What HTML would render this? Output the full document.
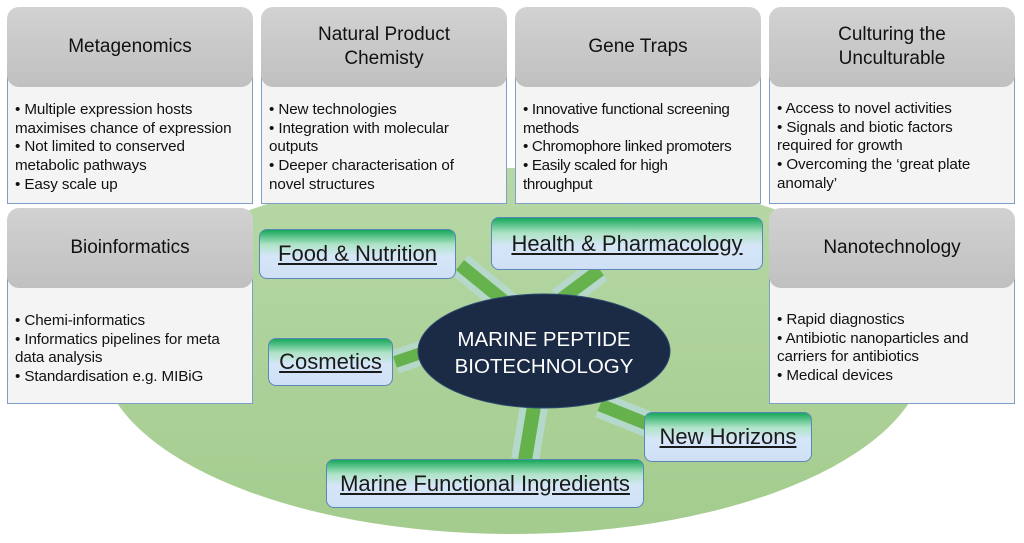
<!DOCTYPE html>
<html><head><style>
body{margin:0;width:1024px;height:543px;background:#fff;position:relative;overflow:hidden;font-family:"Liberation Sans","DejaVu Sans",sans-serif;}
.abs{position:absolute}
.card{position:absolute;width:246px}
.body{position:absolute;left:0;width:244px;background:#f4f4f4;border:1px solid #7f9fc6;}
.hdr{position:absolute;left:0;top:0;width:246px;height:80px;border-radius:12px;background:linear-gradient(#d2d2d2,#c0c0c0);display:flex;align-items:center;justify-content:center;text-align:center;font-size:19px;line-height:24px;color:#111}
.txt{position:absolute;left:8px;font-size:15.2px;line-height:18.7px;color:#111;white-space:nowrap;letter-spacing:-0.1px}
.gb{position:absolute;border:1px solid #5d86b8;border-radius:8px;background:linear-gradient(#16a85a 0%,#aee3c6 30%,#d6e6f8 55%,#cfe0f6 100%);display:flex;align-items:center;justify-content:center;font-size:22px;color:#1a1a1a;text-decoration:underline}
</style></head><body>
<div class="abs" style="left:100px;top:168px;width:826px;height:366px;border-radius:50%;background:linear-gradient(#b7d8a6,#a4cc8e);"></div>
<svg class="abs" style="left:0;top:0" width="1024" height="543">
<g stroke-linecap="butt" opacity="0.9">
<line x1="460" y1="265" x2="515" y2="310" stroke="#b6d9cf" stroke-width="26"/>
<line x1="460" y1="265" x2="515" y2="310" stroke="#5eaf45" stroke-width="13"/>
<line x1="600" y1="270" x2="560" y2="300" stroke="#b6d9cf" stroke-width="26"/>
<line x1="600" y1="270" x2="560" y2="300" stroke="#5eaf45" stroke-width="13"/>
<line x1="395" y1="362" x2="430" y2="350" stroke="#b6d9cf" stroke-width="24"/>
<line x1="395" y1="362" x2="430" y2="350" stroke="#5eaf45" stroke-width="12"/>
<line x1="535" y1="400" x2="525" y2="460" stroke="#b6d9cf" stroke-width="28"/>
<line x1="535" y1="400" x2="525" y2="460" stroke="#5eaf45" stroke-width="14"/>
<line x1="600" y1="405" x2="650" y2="425" stroke="#b6d9cf" stroke-width="26"/>
<line x1="600" y1="405" x2="650" y2="425" stroke="#5eaf45" stroke-width="13"/>
</g>
<ellipse cx="544" cy="351" rx="126" ry="57" fill="#1b2a45" stroke="#2d4a70" stroke-width="1"/>
<text x="544" y="346" fill="#fff" font-size="20.5" text-anchor="middle" font-family="Liberation Sans, sans-serif">MARINE PEPTIDE</text>
<text x="544" y="373" fill="#fff" font-size="20.5" text-anchor="middle" font-family="Liberation Sans, sans-serif">BIOTECHNOLOGY</text>
</svg>

<div class="card" style="left:7px;top:7px"><div class="body" style="top:30px;height:165px"></div><div class="hdr">Metagenomics</div>
<div class="txt" style="top:94px">• Multiple expression hosts<br>maximises chance of expression<br>• Not limited to conserved<br>metabolic pathways<br>• Easy scale up</div></div>
<div class="card" style="left:261px;top:7px"><div class="body" style="top:30px;height:165px"></div><div class="hdr">Natural Product<br>Chemisty</div>
<div class="txt" style="top:94px">• New technologies<br>• Integration with molecular<br>outputs<br>• Deeper characterisation of<br>novel structures</div></div>
<div class="card" style="left:515px;top:7px"><div class="body" style="top:30px;height:165px"></div><div class="hdr">Gene Traps</div>
<div class="txt" style="top:94px;letter-spacing:-0.35px">• Innovative functional screening<br>methods<br>• Chromophore linked promoters<br>• Easily scaled for high<br>throughput</div></div>
<div class="card" style="left:769px;top:7px"><div class="body" style="top:30px;height:165px"></div><div class="hdr">Culturing the<br>Unculturable</div>
<div class="txt" style="top:93px">• Access to novel activities<br>• Signals and biotic factors<br>required for growth<br>• Overcoming the ‘great plate<br>anomaly’</div></div>
<div class="card" style="left:7px;top:208px"><div class="body" style="top:30px;height:164px"></div><div class="hdr">Bioinformatics</div>
<div class="txt" style="top:104px">• Chemi-informatics<br>• Informatics pipelines for meta<br>data analysis<br>• Standardisation e.g. MIBiG</div></div>
<div class="card" style="left:769px;top:208px"><div class="body" style="top:30px;height:164px"></div><div class="hdr">Nanotechnology</div>
<div class="txt" style="top:103px">• Rapid diagnostics<br>• Antibiotic nanoparticles and<br>carriers for antibiotics<br>• Medical devices</div></div>

<div class="gb" style="left:259px;top:229px;width:195px;height:48px">Food &amp; Nutrition</div>
<div class="gb" style="left:491px;top:217px;width:270px;height:51px">Health &amp; Pharmacology</div>
<div class="gb" style="left:268px;top:338px;width:123px;height:46px">Cosmetics</div>
<div class="gb" style="left:644px;top:412px;width:166px;height:48px">New Horizons</div>
<div class="gb" style="left:326px;top:459px;width:316px;height:47px">Marine Functional Ingredients</div>
</body></html>
